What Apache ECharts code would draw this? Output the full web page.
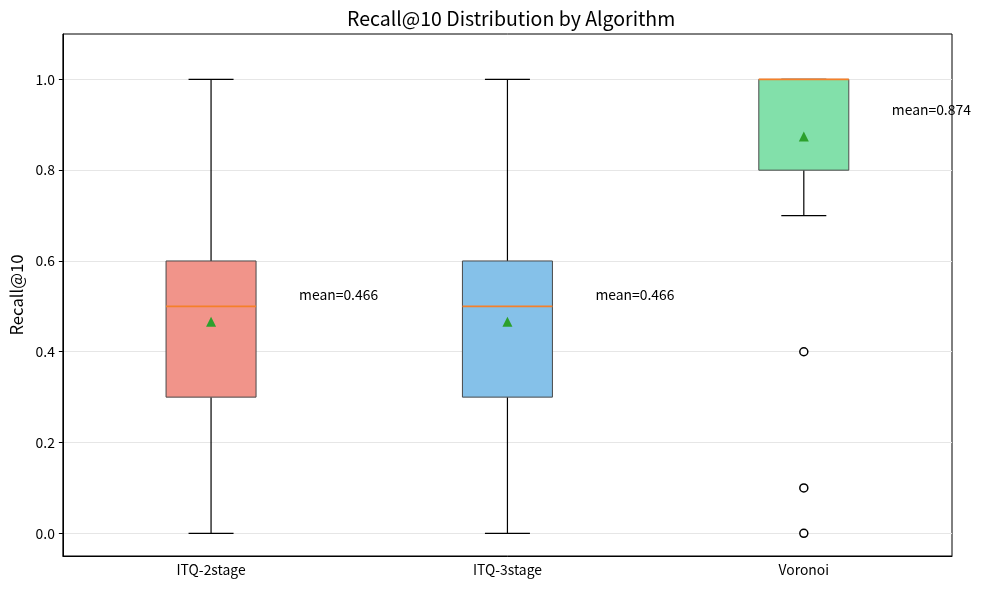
<!DOCTYPE html>
<html>
<head>
<meta charset="utf-8">
<script src="https://cdn.jsdelivr.net/npm/echarts@6/dist/echarts.min.js"></script>
<style>
  html, body { margin: 0; padding: 0; background: #fff; }
  #main { width: 982px; height: 590px; }
</style>
</head>
<body>
<div id="main"></div>
<script>
// chart data
var algorithms = ["ITQ-2stage", "ITQ-3stage", "Voronoi"];
// [whiskerLow, q1, median, q3, whiskerHigh]
var boxStats = [
  [0.0, 0.3, 0.5, 0.6, 1.0],
  [0.0, 0.3, 0.5, 0.6, 1.0],
  [0.7, 0.8, 1.0, 1.0, 1.0]
];
var means = [0.466, 0.466, 0.874];
var outliers = [[2, 0.4], [2, 0.1], [2, 0.0]];
var yTicks = [0, 0.2, 0.4, 0.6, 0.8, 1.0];
var boxColors = ["#f1948a", "#85c1e9", "#82e0aa"];

var font = "Noto Sans CJK SC";

var myChart = echarts.init(document.getElementById("main"));

var boxData = boxStats.map(function (s, i) {
  return [i].concat(s);
});

function renderBox(params, api) {
  var x = api.value(0);
  var low = api.coord([x, api.value(1)]);
  var q1 = api.coord([x, api.value(2)]);
  var med = api.coord([x, api.value(3)]);
  var q3 = api.coord([x, api.value(4)]);
  var high = api.coord([x, api.value(5)]);
  var cx = low[0];
  var halfBox = 45, halfCap = 22.5;
  var black = { stroke: "#000", lineWidth: 1.2 };
  return {
    type: "group",
    children: [
      { type: "line", shape: { x1: cx, y1: q3[1], x2: cx, y2: high[1] }, style: black },
      { type: "line", shape: { x1: cx, y1: q1[1], x2: cx, y2: low[1] }, style: black },
      { type: "line", shape: { x1: cx - halfCap, y1: high[1], x2: cx + halfCap, y2: high[1] }, style: black },
      { type: "line", shape: { x1: cx - halfCap, y1: low[1], x2: cx + halfCap, y2: low[1] }, style: black },
      {
        type: "rect",
        shape: { x: cx - halfBox, y: q3[1], width: halfBox * 2, height: q1[1] - q3[1] },
        style: { fill: boxColors[params.dataIndex], stroke: "#4a4a4a", lineWidth: 1 }
      },
      {
        type: "line",
        shape: { x1: cx - halfBox, y1: med[1], x2: cx + halfBox, y2: med[1] },
        style: { stroke: "#f5802a", lineWidth: 1.6 }
      }
    ]
  };
}

var option = {
  animation: false,
  title: {
    text: "Recall@10 Distribution by Algorithm",
    left: 342,
    top: 4,
    textStyle: { fontFamily: font, fontSize: 19.5, fontWeight: "normal", color: "#000" }
  },
  grid: {
    left: 62, right: 30, top: 34, bottom: 34,
    show: true, borderColor: "#000", borderWidth: 1
  },
  xAxis: {
    type: "category",
    data: algorithms,
    boundaryGap: true,
    axisLine: { onZero: false, lineStyle: { color: "#000" } },
    axisTick: { alignWithLabel: true, length: 4, lineStyle: { color: "#000" } },
    axisLabel: { fontFamily: font, fontSize: 13.9, color: "#000", margin: 7 },
    splitLine: { show: false }
  },
  yAxis: {
    type: "value",
    min: -0.05,
    max: 1.1,
    name: "Recall@10",
    nameLocation: "middle",
    nameGap: 36,
    nameTextStyle: { fontFamily: font, fontSize: 16.7, color: "#000" },
    axisLine: { show: true, onZero: false, lineStyle: { color: "#000" } },
    axisTick: { show: true, length: 4, customValues: yTicks, lineStyle: { color: "#000" } },
    axisLabel: {
      fontFamily: font, fontSize: 13.9, color: "#000", margin: 8,
      customValues: yTicks,
      formatter: function (v) { return v.toFixed(1); }
    },
    splitLine: { show: true, lineStyle: { color: "#e6e6e6", width: 1 } }
  },
  series: [
    {
      type: "custom",
      renderItem: renderBox,
      data: boxData,
      z: 3
    },
    {
      type: "scatter",
      data: outliers,
      symbol: "circle",
      symbolSize: 8,
      itemStyle: { color: "#fff", borderColor: "#000", borderWidth: 1.5, opacity: 1 },
      z: 4
    },
    {
      type: "scatter",
      data: means.map(function (m, i) { return [i, m]; }),
      symbol: "triangle",
      symbolSize: 10,
      itemStyle: { color: "#2ca02c", opacity: 1 },
      label: {
        show: true,
        position: "right",
        distance: 0,
        offset: [83, -27],
        fontFamily: font,
        fontSize: 13.9,
        color: "#000",
        formatter: function (p) { return "mean=" + means[p.dataIndex].toFixed(3); }
      },
      z: 5
    }
  ]
};

myChart.setOption(option);
</script>
</body>
</html>
